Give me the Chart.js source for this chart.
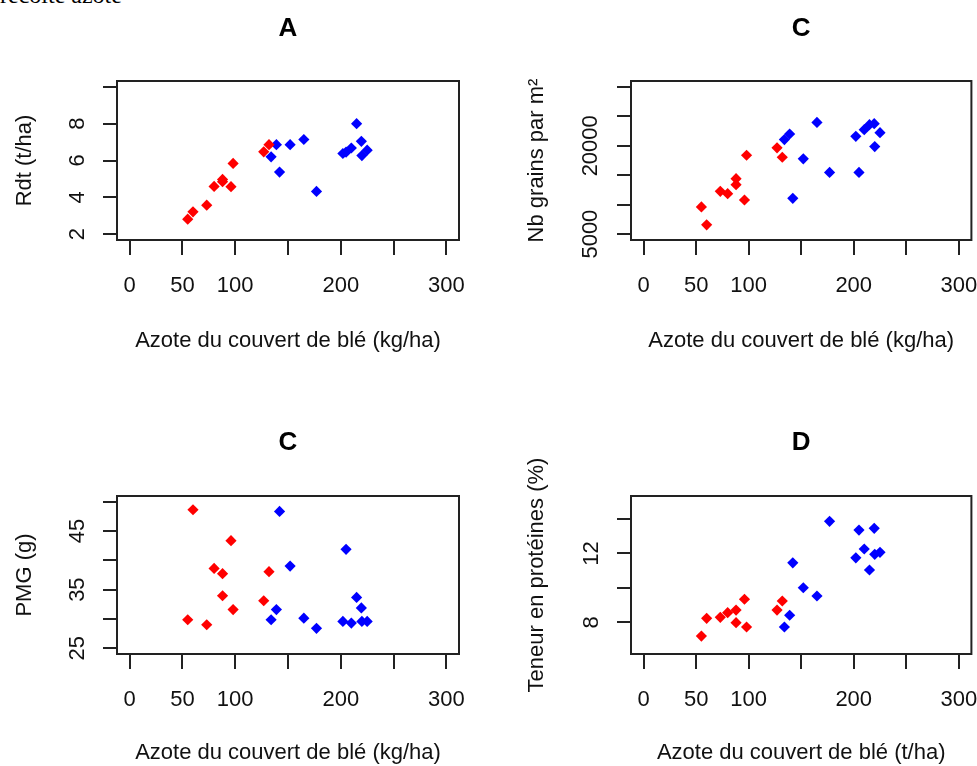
<!DOCTYPE html>
<html>
<head>
<meta charset="utf-8">
<script src="https://cdn.jsdelivr.net/npm/chart.js@4/dist/chart.umd.min.js"></script>
<style>
    body { margin: 0; background: #fff; }
    #page { position: relative; width: 977px; height: 766px; overflow: hidden; background: #fff; }
    #entete { position: absolute; left: 0; top: -17px; font: 24px 'Liberation Serif', 'Times New Roman', serif; line-height: 1; color: #000; white-space: nowrap; }
    canvas { position: absolute; }
</style>
</head>
<body>
<div id="page">
    <div id="entete">récolte azote</div>
    <canvas id="chartA" width="488" height="383" style="left:0;top:0"></canvas>
    <canvas id="chartC" width="489" height="383" style="left:488px;top:0"></canvas>
    <canvas id="chartPMG" width="488" height="383" style="left:0;top:383px"></canvas>
    <canvas id="chartD" width="489" height="383" style="left:488px;top:383px"></canvas>
</div>
<script>
// azote du couvert (kg/ha) : parcelles rouges et bleues
var azoteRouge = [55, 60, 73, 80, 88, 88, 96, 98, 127, 132];
var azoteBleu = [134, 139, 142, 152, 165, 177, 202, 205, 210, 215, 219.5, 220, 225];

var rdtRouge = [2.81, 3.21, 3.57, 4.59, 4.97, 4.85, 4.58, 5.84, 6.47, 6.86];
var rdtBleu = [6.2, 6.86, 5.37, 6.86, 7.14, 4.32, 6.38, 6.45, 6.68, 8.0, 7.04, 6.27, 6.56];

var grainsRouge = [9611, 6571, 12263, 11874, 14408, 13394, 10793, 18394, 19644, 18056];
var grainsBleu = [21046, 22004, 11080, 17785, 23968, 15472, 21603, 15472, 22735, 23579, 23748, 19863, 22228];

var pmgRouge = [29.85, 48.65, 29.0, 38.63, 37.72, 33.95, 43.36, 31.59, 33.1, 38.06];
var pmgBleu = [29.85, 31.59, 48.36, 39.02, 30.12, 28.38, 29.56, 41.89, 29.28, 33.67, 31.87, 29.56, 29.56];

var protRouge = [7.2, 8.23, 8.29, 8.56, 8.71, 7.98, 9.34, 7.73, 8.71, 9.24];
var protBleu = [7.73, 8.41, 11.46, 10.01, 9.53, 13.87, 11.75, 13.36, 12.26, 11.04, 13.46, 11.95, 12.07];

// axes
var xTicks = [0, 50, 100, 150, 200, 250, 300];
var xLabels = ['0', '50', '100', '', '200', '', '300'];
var rdtTicks = [2, 4, 6, 8, 10];
var rdtLabels = ['2', '4', '6', '8', ''];
var grainsTicks = [5000, 10000, 15000, 20000, 25000, 30000];
var grainsLabels = ['5000', '', '', '20000', '', ''];
var pmgTicks = [25, 30, 35, 40, 45, 50];
var pmgLabels = ['25', '', '35', '', '45', ''];
var protTicks = [8, 10, 12, 14];
var protLabels = ['8', '', '12', ''];

Chart.defaults.font.family = "'Liberation Sans', Arial, sans-serif";
Chart.defaults.color = '#111';

var cadre = {
    id: 'cadre',
    afterDraw: function (chart) {
        var a = chart.chartArea;
        var ctx = chart.ctx;
        ctx.save();
        ctx.strokeStyle = '#222';
        ctx.lineWidth = 2;
        ctx.strokeRect(a.left, a.top, a.right - a.left, a.bottom - a.top);
        ctx.restore();
    }
};

function points(xs, ys) {
    return xs.map((x, i) => ({ x: x, y: ys[i] }));
}

function panel(id, p) {
    var trait = { drawOnChartArea: false, drawTicks: true, color: '#222', lineWidth: 2 };

    return new Chart(document.getElementById(id), {
        type: 'scatter',
        data: {
            datasets: [
                { data: points(azoteRouge, p.rouge), backgroundColor: '#ff0000', pointStyle: 'rectRot', pointRadius: 5.6, borderWidth: 0 },
                { data: points(azoteBleu, p.bleu), backgroundColor: '#0000ff', pointStyle: 'rectRot', pointRadius: 5.6, borderWidth: 0 }
            ]
        },
        options: {
            responsive: false,
            animation: false,
            devicePixelRatio: 1,
            layout: { padding: { left: 0, right: p.droite, top: 0, bottom: 0 } },
            plugins: {
                legend: { display: false },
                tooltip: { enabled: false },
                title: {
                    display: true, text: p.titre, fullSize: false, color: '#000',
                    font: { size: 26, weight: 'bold' },
                    padding: { top: p.titreHaut, bottom: p.titreBas }
                }
            },
            scales: {
                x: {
                    type: 'linear', min: -12, max: 312,
                    afterBuildTicks: s => { s.ticks = xTicks.map(v => ({ value: v })); },
                    afterFit: s => { s.height = p.hauteurX; s.paddingLeft = 0; s.paddingRight = 0; },
                    grid: Object.assign({ tickLength: 15 }, trait),
                    border: { display: false },
                    ticks: { autoSkip: false, maxRotation: 0, padding: 18, font: { size: 22 }, callback: (v, i) => xLabels[i] },
                    title: { display: true, text: p.titreX, color: '#111', font: { size: 22 }, padding: { top: 0, bottom: p.xTitreBas } }
                },
                y: {
                    type: 'linear', min: p.yMin, max: p.yMax,
                    afterBuildTicks: s => { s.ticks = p.yTicks.map(v => ({ value: v })); },
                    afterFit: s => { s.width = p.largeurY; s.paddingTop = 0; s.paddingBottom = 0; },
                    grid: Object.assign({ tickLength: 14 }, trait),
                    border: { display: false },
                    ticks: { autoSkip: false, minRotation: 90, maxRotation: 90, crossAlign: 'center', padding: p.yPad, font: { size: 22 }, callback: (v, i) => p.yLabels[i] },
                    title: { display: true, text: p.titreY, color: '#111', font: { size: 22 }, padding: { top: p.yTitreHaut, bottom: 0 } }
                }
            }
        },
        plugins: [cadre]
    });
}

window.onload = () => {
    panel('chartA', {
        titre: 'A', rouge: rdtRouge, bleu: rdtBleu,
        yMin: 1.68, yMax: 10.32, yTicks: rdtTicks, yLabels: rdtLabels, yPad: 19,
        titreY: 'Rdt (t/ha)', titreX: 'Azote du couvert de blé (kg/ha)',
        droite: 29, largeurY: 117, hauteurX: 143, titreHaut: 13.7, titreBas: 36.1, xTitreBas: 28.8, yTitreHaut: 12
    });
    panel('chartC', {
        titre: 'C', rouge: grainsRouge, bleu: grainsBleu,
        yMin: 4000, yMax: 31000, yTicks: grainsTicks, yLabels: grainsLabels, yPad: -4.6,
        titreY: 'Nb grains par m²', titreX: 'Azote du couvert de blé (kg/ha)',
        droite: 5, largeurY: 143, hauteurX: 143, titreHaut: 13.7, titreBas: 36.1, xTitreBas: 28.8, yTitreHaut: 36
    });
    panel('chartPMG', {
        titre: 'C', rouge: pmgRouge, bleu: pmgBleu,
        yMin: 24, yMax: 51, yTicks: pmgTicks, yLabels: pmgLabels, yPad: 12.8,
        titreY: 'PMG (g)', titreX: 'Azote du couvert de blé (kg/ha)',
        droite: 29, largeurY: 117, hauteurX: 112, titreHaut: 44.7, titreBas: 37.1, xTitreBas: 0, yTitreHaut: 12
    });
    panel('chartD', {
        titre: 'D', rouge: protRouge, bleu: protBleu,
        yMin: 6.16, yMax: 15.34, yTicks: protTicks, yLabels: protLabels, yPad: 12.8,
        titreY: 'Teneur en protéines (%)', titreX: 'Azote du couvert de blé (t/ha)',
        droite: 5, largeurY: 143, hauteurX: 112, titreHaut: 44.7, titreBas: 37.1, xTitreBas: 0, yTitreHaut: 36
    });
};
</script>
</body>
</html>
